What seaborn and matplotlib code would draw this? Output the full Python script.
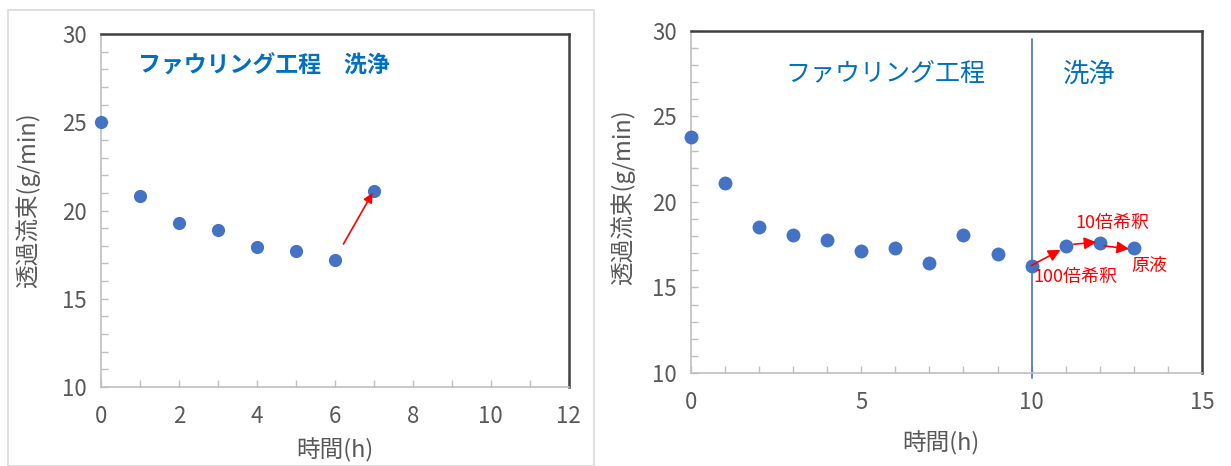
import numpy as np
import pandas as pd
import matplotlib
matplotlib.use("Agg")
import matplotlib.pyplot as plt
from matplotlib.patches import Rectangle
from matplotlib.ticker import MultipleLocator
import seaborn as sns

# --- data ---
left_hours = [0, 1, 2, 3, 4, 5, 6, 7]
left_flux = [25.0, 20.85, 19.3, 18.9, 17.95, 17.7, 17.2, 21.1]

right_hours = [0, 1, 2, 3, 4, 5, 6, 7, 8, 9, 10, 11, 12, 13]
right_flux = [23.8, 21.1, 18.55, 18.05, 17.8, 17.15, 17.3, 16.45, 18.05, 16.95, 16.25, 17.45, 17.6, 17.3]

y_label = "透過流束(g/min)"
x_label = "時間(h)"
left_title = "ファウリング工程　洗浄"
right_titles = ["ファウリング工程", "洗浄"]
step_labels = ["100倍希釈", "10倍希釈", "原液"]

BLUE = "#4472C4"
TXT_BLUE = "#0070C0"
GRAY = "#595959"

sns.set_theme(style="white")
plt.rcParams['font.family'] = ['Noto Sans CJK JP', 'DejaVu Sans']

fig = plt.figure(figsize=(12.31, 4.66), dpi=100)

# light frame around the left chart
fig.patches.append(Rectangle((8 / 1231, 0.0), (594 - 8) / 1231, 1 - 10 / 466,
                             transform=fig.transFigure, fill=False,
                             edgecolor="#D9D9D9", lw=1.2))

ax1 = fig.add_axes([0.0820, 0.1695, 0.380, 0.7575])
ax2 = fig.add_axes([0.5613, 0.1996, 0.4151, 0.7339])


def style_axes(ax, xmax, xmajor):
    ax.set_xlim(0, xmax)
    ax.set_ylim(10, 30)
    ax.xaxis.set_major_locator(MultipleLocator(xmajor))
    ax.xaxis.set_minor_locator(MultipleLocator(1))
    ax.yaxis.set_major_locator(MultipleLocator(5))
    ax.yaxis.set_minor_locator(MultipleLocator(1))
    ax.tick_params(axis="both", which="both", direction="in", color="#BFBFBF",
                   length=5, width=1)
    ax.tick_params(axis="both", which="major", labelsize=16, labelcolor=GRAY)
    ax.tick_params(axis="x", which="major", pad=13)
    ax.tick_params(axis="y", which="major", pad=10)
    ax.tick_params(bottom=True, left=True, which="both")
    for side in ("left", "bottom"):
        ax.spines[side].set_color("#BFBFBF")
        ax.spines[side].set_linewidth(1.2)
    for side in ("top", "right"):
        ax.spines[side].set_color("#404040")
        ax.spines[side].set_linewidth(1.8)
    ax.set_xlabel(x_label, fontsize=17, color=GRAY)
    ax.set_ylabel(y_label, fontsize=17, color=GRAY)


# --- left chart ---
sns.scatterplot(x=left_hours, y=left_flux, ax=ax1, color=BLUE, s=90,
                edgecolor=BLUE, linewidth=0, clip_on=False, zorder=3)
style_axes(ax1, 12, 2)
ax1.yaxis.set_label_coords(-0.13, 0.53)
ax1.xaxis.set_label_coords(0.5, -0.145)
ax1.text(0.95, 28.2, left_title, color=TXT_BLUE, fontsize=16.5, fontweight="bold",
         ha="left", va="center")
ax1.annotate("", xy=(6.97, 21.0), xytext=(6.22, 18.1),
             arrowprops=dict(arrowstyle="-|>", color="red", lw=1.2,
                             mutation_scale=14, shrinkA=0, shrinkB=0))

# --- right chart ---
sns.scatterplot(x=right_hours, y=right_flux, ax=ax2, color=BLUE, s=100,
                edgecolor=BLUE, linewidth=0, clip_on=False, zorder=3)
style_axes(ax2, 15, 5)
ax2.yaxis.set_label_coords(-0.11, 0.515)
ax2.xaxis.set_label_coords(0.49, -0.17)
ax2.plot([10, 10], [29.55, 9.7], color=BLUE, lw=1.2, clip_on=False, zorder=2)
ax2.text(5.7, 27.5, right_titles[0], color=TXT_BLUE, fontsize=18,
         ha="center", va="center")
ax2.text(11.7, 27.5, right_titles[1], color=TXT_BLUE, fontsize=19,
         ha="center", va="center")

arrows = [((9.99, 16.28), (10.85, 17.2)),
          ((11.24, 17.53), (11.9, 17.65)),
          ((12.13, 17.43), (12.86, 17.26))]
for start, end in arrows:
    ax2.annotate("", xy=end, xytext=start,
                 arrowprops=dict(arrowstyle="-|>", color="red", lw=1.2,
                                 mutation_scale=18, shrinkA=0, shrinkB=0))
ax2.text(11.29, 15.6, step_labels[0], color="red", fontsize=13, ha="center", va="center")
ax2.text(12.36, 18.75, step_labels[1], color="red", fontsize=13, ha="center", va="center")
ax2.text(13.45, 16.25, step_labels[2], color="red", fontsize=13, ha="center", va="center")

fig.savefig("out.png", dpi=100)
